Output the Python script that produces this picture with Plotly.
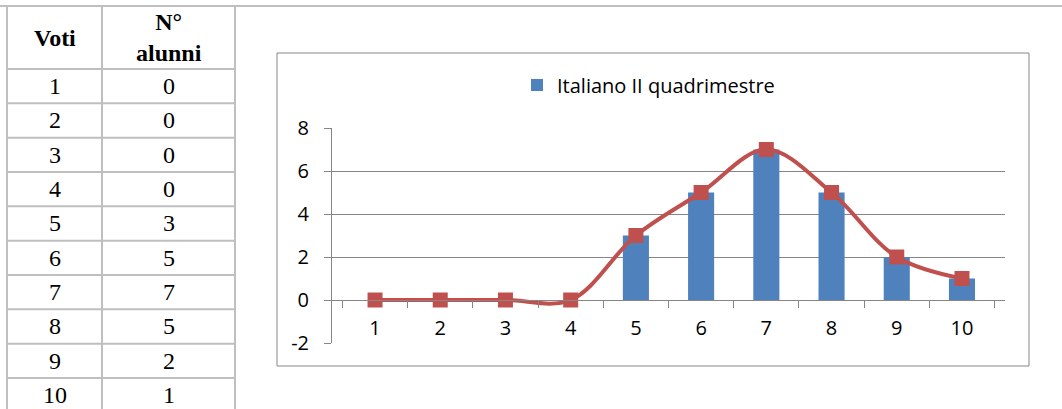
import plotly.graph_objects as go

# Grades and number of pupils per grade
voti = [1, 2, 3, 4, 5, 6, 7, 8, 9, 10]
alunni = [0, 0, 0, 0, 3, 5, 7, 5, 2, 1]
serie = "Italiano II quadrimestre"

# y-axis ticks and their labels (plain hyphen for the negative value)
y_ticks = [-2, 0, 2, 4, 6, 8]
y_tick_labels = ["-2", "0", "2", "4", "6", "8"]

W, H = 1062, 409


def px(x):
    return x / W


def py(y):
    return 1 - y / H


CHART_FONT = "Open Sans"
CHART_SIZE = 20
TABLE_FONT = "Liberation Serif"
GRID = "#868686"
TABLE_LINE = "#bfbfbf"

cats = [str(v) for v in voti]

fig = go.Figure()

fig.add_trace(go.Bar(
    x=cats, y=alunni, name=serie,
    marker=dict(color="#4F81BD", line=dict(width=0)),
    width=0.4, showlegend=True,
))

fig.add_trace(go.Scatter(
    x=cats, y=alunni, mode="lines+markers",
    line=dict(color="#C0504D", width=4, shape="spline", smoothing=1),
    marker=dict(symbol="square", size=15, color="#C0504D", line=dict(width=0)),
    showlegend=False,
))

# plot area in paper fractions
y_bot, y_top = py(343), py(128)
y_zero = y_bot + (0 - (-2)) / 10 * (y_top - y_bot)

shapes = []
annotations = []

# chart frame
shapes.append(dict(type="rect", xref="paper", yref="paper",
                   x0=px(277), x1=px(1029), y0=py(366), y1=py(53),
                   line=dict(color=GRID, width=1), layer="below"))

# table grid
t_left, t_mid, t_right = 7, 102, 235
t_top, head_bot, row_h = 6, 69, 34.33
shapes.append(dict(type="line", xref="paper", yref="paper",
                   x0=0, x1=1, y0=py(t_top), y1=py(t_top),
                   line=dict(color=TABLE_LINE, width=2)))
for xv in (t_left, t_mid, t_right):
    shapes.append(dict(type="line", xref="paper", yref="paper",
                       x0=px(xv), x1=px(xv), y0=py(t_top), y1=0,
                       line=dict(color=TABLE_LINE, width=2)))
for i in range(len(voti)):
    yl = head_bot + i * row_h
    shapes.append(dict(type="line", xref="paper", yref="paper",
                       x0=px(t_left), x1=px(t_right), y0=py(yl), y1=py(yl),
                       line=dict(color=TABLE_LINE, width=2)))

c1 = (t_left + t_mid) / 2
c2 = (t_mid + t_right) / 2
annotations.append(dict(text="<b>Voti</b>", x=px(c1), y=py(38), xref="paper", yref="paper",
                        showarrow=False, xanchor="center", yanchor="middle",
                        font=dict(family=TABLE_FONT, size=24, color="black")))
annotations.append(dict(text="<b>N°<br>alunni</b>", x=px(c2), y=py(37), xref="paper", yref="paper",
                        showarrow=False, xanchor="center", yanchor="middle",
                        font=dict(family=TABLE_FONT, size=24, color="black")))
for i, (v, n) in enumerate(zip(voti, alunni)):
    yc = head_bot + (i + 0.5) * row_h
    for xc, txt in ((c1, v), (c2, n)):
        annotations.append(dict(text=str(txt), x=px(xc), y=py(yc), xref="paper", yref="paper",
                                showarrow=False, xanchor="center", yanchor="middle",
                                font=dict(family=TABLE_FONT, size=24, color="black")))

fig.update_layout(
    width=W, height=H,
    margin=dict(l=0, r=0, t=0, b=0, pad=0, autoexpand=False),
    paper_bgcolor="white", plot_bgcolor="rgba(0,0,0,0)",
    font=dict(family=CHART_FONT, size=CHART_SIZE, color="black"),
    bargap=0.6,
    shapes=shapes, annotations=annotations,
    legend=dict(x=px(517), y=py(85), xanchor="left", yanchor="middle",
                orientation="h", font=dict(family=CHART_FONT, size=CHART_SIZE, color="black"),
                bgcolor="rgba(0,0,0,0)"),
    xaxis=dict(
        type="category", domain=[px(332), px(1005)], automargin=False,
        anchor="free", position=y_zero,
        showline=True, linecolor=GRID, linewidth=1,
        ticks="outside", tickson="boundaries", ticklen=7, tickcolor=GRID,
        showgrid=False, zeroline=False, ticklabelstandoff=10,
        tickfont=dict(family=CHART_FONT, size=CHART_SIZE, color="black"),
    ),
    yaxis=dict(
        domain=[y_bot, y_top], range=[-2, 8], automargin=False,
        tickmode="array", tickvals=y_ticks, ticktext=y_tick_labels,
        showgrid=True, gridcolor=GRID, gridwidth=1,
        showline=True, linecolor=GRID, linewidth=1,
        ticks="outside", ticklen=7, tickcolor=GRID,
        zeroline=False, ticklabelstandoff=11,
        tickfont=dict(family=CHART_FONT, size=CHART_SIZE, color="black"),
    ),
    showlegend=True,
)

fig.write_html("out.html")
